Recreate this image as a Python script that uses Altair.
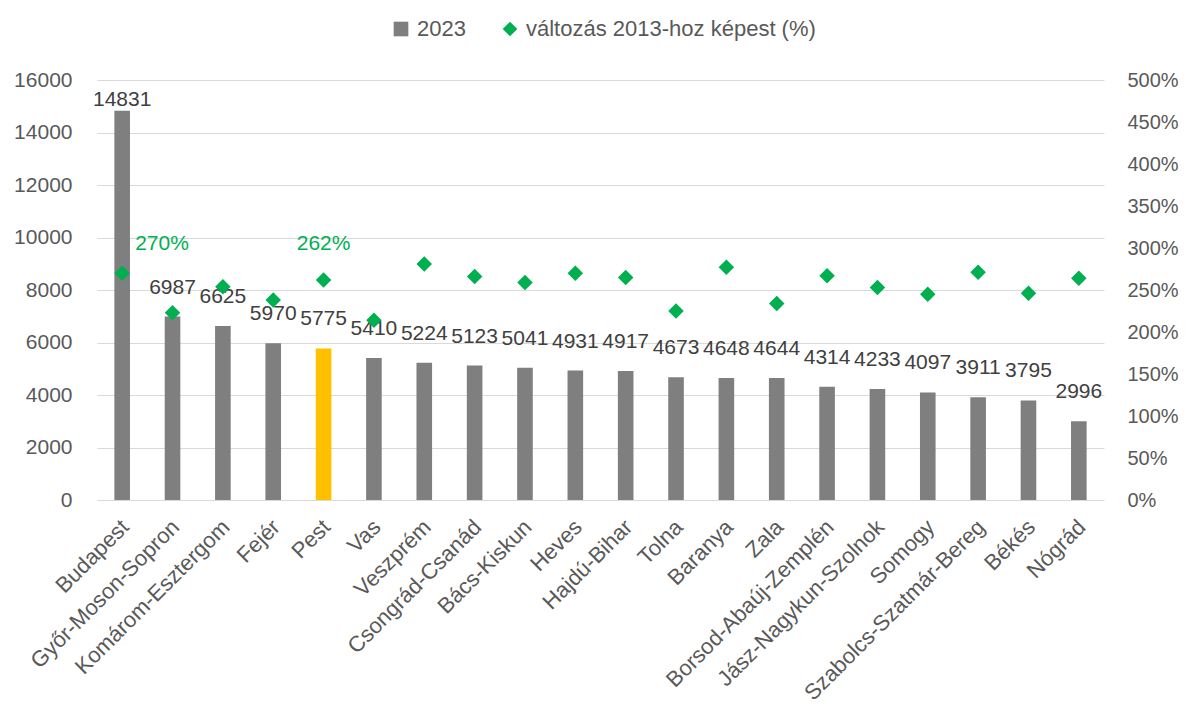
import altair as alt
import pandas as pd

regions = ["Budapest", "Győr-Moson-Sopron", "Komárom-Esztergom", "Fejér", "Pest", "Vas",
           "Veszprém", "Csongrád-Csanád", "Bács-Kiskun", "Heves", "Hajdú-Bihar", "Tolna",
           "Baranya", "Zala", "Borsod-Abaúj-Zemplén", "Jász-Nagykun-Szolnok", "Somogy",
           "Szabolcs-Szatmár-Bereg", "Békés", "Nógrád"]
values_2023 = [14831, 6987, 6625, 5970, 5775, 5410, 5224, 5123, 5041, 4931, 4917, 4673,
               4648, 4644, 4314, 4233, 4097, 3911, 3795, 2996]
change_pct = [2.70, 2.23, 2.54, 2.38, 2.62, 2.14, 2.81, 2.66, 2.59, 2.70, 2.65, 2.25,
              2.77, 2.34, 2.67, 2.53, 2.45, 2.71, 2.46, 2.64]
highlight = "Pest"
labelled_pct = ["Budapest", "Pest"]
series_names = ["2023", "változás 2013-hoz képest (%)"]
left_ticks = [0, 2000, 4000, 6000, 8000, 10000, 12000, 14000, 16000]
right_ticks = [0, 0.5, 1.0, 1.5, 2.0, 2.5, 3.0, 3.5, 4.0, 4.5, 5.0]

df = pd.DataFrame({"region": regions, "value": values_2023, "pct": change_pct})

GRAY = "#7F7F7F"
GREEN = "#00B050"
YELLOW = "#FFC000"
AXIS_TXT = "#595959"
LBL_TXT = "#404040"

legend = alt.Legend(title=None, orient="none", legendX=293, legendY=-62,
                    direction="horizontal", labelFontSize=22, labelColor=AXIS_TXT,
                    symbolSize=215, columnPadding=33, labelOffset=5, padding=0,
                    symbolStrokeWidth=0, labelLimit=600)
color_scale = alt.Scale(domain=series_names, range=[GRAY, GREEN])
shape_scale = alt.Scale(domain=series_names, range=["square", "diamond"])

x_enc = alt.X("region:N", sort=regions,
              scale=alt.Scale(paddingInner=0.69, paddingOuter=0.345),
              axis=alt.Axis(title=None, labelAngle=-45, labelFontSize=22,
                            labelColor=AXIS_TXT, ticks=False, domain=False,
                            labelPadding=16, labelOffset=-4, labelLimit=500))

y_left_scale = alt.Scale(domain=[0, 16000], nice=False)
y_right_scale = alt.Scale(domain=[0, 5], nice=False)

base = alt.Chart(df)

bars = base.transform_calculate(series="'2023'").mark_bar().encode(
    x=x_enc,
    y=alt.Y("value:Q", scale=y_left_scale,
            axis=alt.Axis(title=None, values=left_ticks, format="d", grid=True,
                          gridColor="#D9D9D9", gridWidth=1, ticks=False, domain=False,
                          labelFontSize=21, labelColor=AXIS_TXT, labelPadding=25)),
    color=alt.condition(alt.datum.region == highlight, alt.value(YELLOW),
                        alt.Color("series:N", scale=color_scale, legend=legend)),
)

bar_text = base.transform_calculate(labelpos="min(datum.value, 14130)").mark_text(
    baseline="bottom", dy=-19, fontSize=21, color=LBL_TXT
).encode(
    x=x_enc,
    y=alt.Y("labelpos:Q", scale=y_left_scale),
    text=alt.Text("value:Q", format="d"),
)

points = base.transform_calculate(series="'változás 2013-hoz képest (%)'").mark_point(
    filled=True, size=240, opacity=1
).encode(
    x=x_enc,
    y=alt.Y("pct:Q", scale=y_right_scale,
            axis=alt.Axis(title=None, orient="right", values=right_ticks, format=".0%",
                          grid=False, ticks=False, domain=False, labelFontSize=20,
                          labelColor=AXIS_TXT, labelPadding=23)),
    color=alt.Color("series:N", scale=color_scale, legend=legend),
    shape=alt.Shape("series:N", scale=shape_scale, legend=legend),
)

pct_text_a = base.transform_filter(alt.datum.region == labelled_pct[0]).mark_text(
    align="left", baseline="bottom", dx=13, dy=-19, fontSize=21, color=GREEN
).encode(
    x=x_enc,
    y=alt.Y("pct:Q", scale=y_right_scale),
    text=alt.Text("pct:Q", format=".0%"),
)

pct_text_b = base.transform_filter(alt.datum.region == labelled_pct[1]).mark_text(
    align="center", baseline="bottom", dy=-26, fontSize=21, color=GREEN
).encode(
    x=x_enc,
    y=alt.Y("pct:Q", scale=y_right_scale),
    text=alt.Text("pct:Q", format=".0%"),
)

left = alt.layer(bars, bar_text)
right = alt.layer(points, pct_text_a, pct_text_b)

chart = alt.layer(left, right).resolve_scale(y="independent").properties(
    width=1007, height=420,
    autosize=alt.AutoSizeParams(type="none"),
    padding={"left": 89, "top": 72, "right": 76, "bottom": 200},
).configure(font="Liberation Sans").configure_view(stroke=None)

chart.save("out.html", embed_options={"renderer": "svg", "actions": False})
